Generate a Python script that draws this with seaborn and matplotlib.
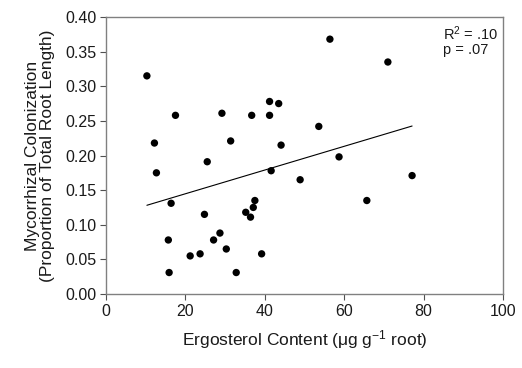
import seaborn as sns
import matplotlib.pyplot as plt
import pandas as pd

# Ergosterol content (ug/g root) vs mycorrhizal colonization
ergosterol = [10.3, 17.5, 12.2, 29.2, 31.4, 36.7, 41.2, 43.5, 41.2, 44.1,
              53.6, 25.5, 56.4, 71.0, 58.7, 12.7, 41.6, 48.9, 16.4, 24.8,
              35.2, 37.5, 37.1, 36.4, 15.7, 28.7, 27.1, 30.3, 23.7, 21.2,
              39.2, 15.9, 32.8, 77.1, 65.7]
colonization = [0.315, 0.258, 0.218, 0.261, 0.221, 0.258, 0.278, 0.275, 0.258, 0.215,
                0.242, 0.191, 0.368, 0.335, 0.198, 0.175, 0.178, 0.165, 0.131, 0.115,
                0.118, 0.135, 0.125, 0.111, 0.078, 0.088, 0.078, 0.065, 0.058, 0.055,
                0.058, 0.031, 0.031, 0.171, 0.135]

df = pd.DataFrame({"ergosterol": ergosterol, "colonization": colonization})

sns.set_theme(style="ticks")
plt.rcParams['font.family'] = ['Liberation Sans', 'DejaVu Sans']
plt.rcParams['mathtext.default'] = 'regular'

fig = plt.figure(figsize=(5.22, 3.68), dpi=100)
ax = fig.add_axes([106 / 522, 1 - 294 / 368, 397 / 522, 277 / 368])

sns.regplot(data=df, x="ergosterol", y="colonization", ax=ax, ci=None,
            scatter_kws=dict(s=28, color="black", edgecolor="none", alpha=1),
            line_kws=dict(color="black", lw=0.8))

ax.set_xlim(0, 100)
ax.set_ylim(0, 0.40)
ax.set_xticks([0, 20, 40, 60, 80, 100])
ax.set_yticks([0.0, 0.05, 0.10, 0.15, 0.20, 0.25, 0.30, 0.35, 0.40])
ax.set_yticklabels([f"{v:.2f}" for v in ax.get_yticks()])
for s in ax.spines.values():
    s.set_color("#808080")
    s.set_linewidth(1.0)
ax.tick_params(colors="#505050", labelcolor="#1a1a1a", labelsize=11.5,
               length=4, width=0.8, direction="out", pad=3)

ax.set_xlabel("Ergosterol Content (\u03bcg g$^{-1}$ root)", fontsize=12.5,
              color="#1a1a1a", labelpad=7)
ax.set_ylabel("Mycorrhizal Colonization\n(Proportion of Total Root Length)",
              fontsize=12.5, color="#1a1a1a", labelpad=7, linespacing=1.0)

ax.text(0.85, 0.975, "R$^2$ = .10\np = .07", transform=ax.transAxes,
        fontsize=10.5, va="top", ha="left", color="#1a1a1a", linespacing=1.0)

fig.savefig("out.png", dpi=100)
